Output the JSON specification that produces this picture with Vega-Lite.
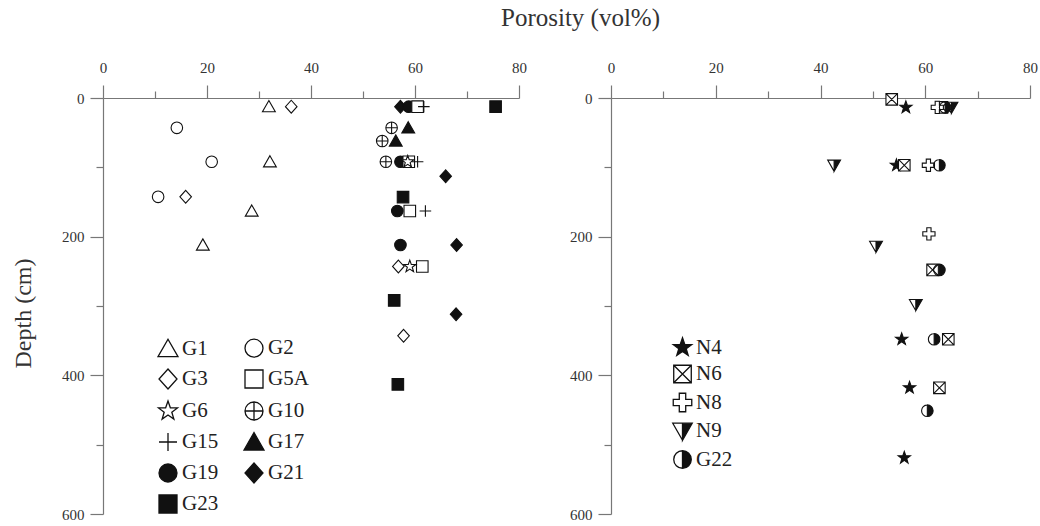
{
  "$schema": "https://vega.github.io/schema/vega-lite/v6.json",
  "background": "white",
  "padding": {"left": 11, "top": 6, "right": 5, "bottom": 5},
  "title": {"text": "Porosity (vol%)", "font": "Liberation Serif", "fontSize": 25, "fontWeight": "normal", "color": "#333", "anchor": "middle", "dx": 56, "offset": 29},
  "bounds": "flush",
  "spacing": 92,
  "config": {
    "view": {"stroke": null},
    "axis": {"grid": false, "domainColor": "#777", "tickColor": "#777", "domainWidth": 1.2, "tickWidth": 1.2, "labelFont": "Liberation Serif", "labelFontSize": 15, "labelColor": "#333", "labelFlush": false, "labelOverlap": false},
    "legend": {"title": null, "orient": "none", "padding": 0, "symbolStrokeColor": "#111", "symbolStrokeWidth": 1.3, "symbolOpacity": 1, "labelFont": "Liberation Serif", "labelFontSize": 21, "labelColor": "#222", "labelOffset": 3, "labelLimit": 200}
  },
  "datasets": {
    "left": [
      {"series": "G1", "porosity": 31.9, "depth": 12.5},
      {"series": "G1", "porosity": 32.1, "depth": 92},
      {"series": "G1", "porosity": 28.6, "depth": 163},
      {"series": "G1", "porosity": 19.2, "depth": 212},
      {"series": "G2", "porosity": 14.2, "depth": 43},
      {"series": "G2", "porosity": 20.9, "depth": 92},
      {"series": "G2", "porosity": 10.6, "depth": 142.5},
      {"series": "G3", "porosity": 36.2, "depth": 12.5},
      {"series": "G3", "porosity": 15.9, "depth": 142.5},
      {"series": "G3", "porosity": 56.8, "depth": 243},
      {"series": "G3", "porosity": 57.8, "depth": 343},
      {"series": "G21", "porosity": 57.2, "depth": 12.5},
      {"series": "G21", "porosity": 65.9, "depth": 113},
      {"series": "G21", "porosity": 68.0, "depth": 212},
      {"series": "G21", "porosity": 67.9, "depth": 312},
      {"series": "G19", "porosity": 58.8, "depth": 12.5},
      {"series": "G19", "porosity": 57.2, "depth": 92},
      {"series": "G19", "porosity": 56.6, "depth": 163},
      {"series": "G19", "porosity": 57.2, "depth": 212},
      {"series": "G5A", "porosity": 60.5, "depth": 12.5},
      {"series": "G5A", "porosity": 58.8, "depth": 92},
      {"series": "G5A", "porosity": 59.0, "depth": 163},
      {"series": "G5A", "porosity": 61.4, "depth": 243},
      {"series": "G6", "porosity": 58.6, "depth": 92},
      {"series": "G6", "porosity": 59.0, "depth": 243},
      {"series": "G10", "porosity": 55.5, "depth": 43},
      {"series": "G10", "porosity": 53.7, "depth": 62},
      {"series": "G10", "porosity": 54.4, "depth": 92},
      {"series": "G15", "porosity": 61.7, "depth": 12.5},
      {"series": "G15", "porosity": 60.5, "depth": 92},
      {"series": "G15", "porosity": 62.0, "depth": 163},
      {"series": "G17", "porosity": 58.7, "depth": 43},
      {"series": "G17", "porosity": 56.3, "depth": 62},
      {"series": "G23", "porosity": 75.5, "depth": 12.5},
      {"series": "G23", "porosity": 57.7, "depth": 143},
      {"series": "G23", "porosity": 56.0, "depth": 292},
      {"series": "G23", "porosity": 56.7, "depth": 413}
    ],
    "right": [
      {"series": "N4", "porosity": 56.3, "depth": 13.5},
      {"series": "N4", "porosity": 54.5, "depth": 97},
      {"series": "N4", "porosity": 55.5, "depth": 348},
      {"series": "N4", "porosity": 57.0, "depth": 418},
      {"series": "N4", "porosity": 56.0, "depth": 519},
      {"series": "N6", "porosity": 53.6, "depth": 2},
      {"series": "N6", "porosity": 63.2, "depth": 13.5},
      {"series": "N6", "porosity": 56.0, "depth": 97},
      {"series": "N6", "porosity": 61.4, "depth": 248},
      {"series": "N6", "porosity": 64.4, "depth": 348},
      {"series": "N6", "porosity": 62.7, "depth": 418},
      {"series": "N8", "porosity": 62.3, "depth": 13.5},
      {"series": "N8", "porosity": 60.6, "depth": 97},
      {"series": "N8", "porosity": 60.7, "depth": 196},
      {"series": "N9", "porosity": 65.0, "depth": 13.5},
      {"series": "N9", "porosity": 42.6, "depth": 97},
      {"series": "N9", "porosity": 50.6, "depth": 214},
      {"series": "N9", "porosity": 58.2, "depth": 298},
      {"series": "G22", "porosity": 63.8, "depth": 13.5},
      {"series": "G22", "porosity": 62.7, "depth": 97},
      {"series": "G22", "porosity": 62.7, "depth": 248},
      {"series": "G22", "porosity": 61.7, "depth": 348},
      {"series": "G22", "porosity": 60.4, "depth": 451}
    ]
  },
  "resolve": {
    "scale": {"x": "independent", "y": "independent", "shape": "independent", "fill": "independent"},
    "legend": {"shape": "independent", "fill": "independent"}
  },
  "hconcat": [
    {
      "width": 416,
      "height": 416,
      "data": {"name": "left"},
      "mark": {"type": "point", "filled": true, "stroke": "#111", "strokeWidth": 1.1, "size": 165, "opacity": 1},
      "encoding": {
        "x": {
          "field": "porosity", "type": "quantitative",
          "scale": {"domain": [0, 80], "nice": false, "zero": false},
          "axis": {"orient": "top", "title": null, "values": [0, 10, 20, 30, 40, 50, 60, 70, 80],
            "labelExpr": "datum.value % 20 === 0 ? datum.label : ''",
            "tickSize": {"condition": {"test": "datum.value % 20 === 0", "value": 13}, "value": 7},
            "labelPadding": 10}
        },
        "y": {
          "field": "depth", "type": "quantitative",
          "scale": {"domain": [0, 600], "nice": false, "zero": false, "reverse": true},
          "axis": {"orient": "left", "title": "Depth (cm)", "values": [0, 100, 200, 300, 400, 500, 600],
            "labelExpr": "datum.value % 200 === 0 ? datum.label : ''",
            "tickSize": {"condition": {"test": "datum.value % 200 === 0", "value": 13}, "value": 7},
            "labelPadding": 6,
            "titleFont": "Liberation Serif", "titleFontSize": 24, "titleFontWeight": "normal", "titleColor": "#333",
            "titlePadding": 26, "titleY": 215}
        },
        "shape": {
          "field": "series", "type": "nominal",
          "scale": {
            "domain": ["G1", "G2", "G3", "G5A", "G6", "G10", "G15", "G17", "G19", "G21", "G23"],
            "range": [
              "M0,-0.95L1,0.8L-1,0.8Z",
              "M0.9,0A0.9,0.9,0,1,1,-0.9,0A0.9,0.9,0,1,1,0.9,0Z",
              "M0,-1L0.9,0L0,1L-0.9,0Z",
              "M-0.9,-0.9L0.9,-0.9L0.9,0.9L-0.9,0.9Z",
              "M0,-1L0.235,-0.324L0.951,-0.309L0.38,0.124L0.588,0.809L0,0.4L-0.588,0.809L-0.38,0.124L-0.951,-0.309L-0.235,-0.324Z",
              "M0.9,0A0.9,0.9,0,1,1,-0.9,0A0.9,0.9,0,1,1,0.9,0ZM-0.9,0L0.9,0M0,-0.9L0,0.9",
              "M-0.9,0L0.9,0M0,-0.9L0,0.9",
              "M0,-0.95L1,0.8L-1,0.8Z",
              "M0.9,0A0.9,0.9,0,1,1,-0.9,0A0.9,0.9,0,1,1,0.9,0Z",
              "M0,-1L0.9,0L0,1L-0.9,0Z",
              "M-0.9,-0.9L0.9,-0.9L0.9,0.9L-0.9,0.9Z"
            ]
          },
          "legend": {"legendX": 54, "legendY": 239, "columns": 2, "direction": "horizontal", "columnPadding": 22, "rowPadding": 6, "symbolSize": 400,
            "encode": {"symbols": {"update": {"stroke": {"value": "#111"}, "strokeWidth": {"value": 1.3}}}}}
        },
        "fill": {
          "field": "series", "type": "nominal",
          "scale": {
            "domain": ["G1", "G2", "G3", "G5A", "G6", "G10", "G15", "G17", "G19", "G21", "G23"],
            "range": ["white", "white", "white", "white", "white", "white", "white", "#111", "#111", "#111", "#111"]
          },
          "legend": {"legendX": 54, "legendY": 239, "columns": 2, "direction": "horizontal", "columnPadding": 22, "rowPadding": 6, "symbolSize": 400,
            "encode": {"symbols": {"update": {"stroke": {"value": "#111"}, "strokeWidth": {"value": 1.3}}}}}
        }
      }
    },
    {
      "width": 419,
      "height": 416,
      "data": {"name": "right"},
      "mark": {"type": "point", "filled": true, "stroke": "#111", "strokeWidth": 1.1, "size": 165, "opacity": 1},
      "encoding": {
        "x": {
          "field": "porosity", "type": "quantitative",
          "scale": {"domain": [0, 80], "nice": false, "zero": false},
          "axis": {"orient": "top", "title": null, "values": [0, 10, 20, 30, 40, 50, 60, 70, 80],
            "labelExpr": "datum.value % 20 === 0 ? datum.label : ''",
            "tickSize": {"condition": {"test": "datum.value % 20 === 0", "value": 13}, "value": 7},
            "labelPadding": 10}
        },
        "y": {
          "field": "depth", "type": "quantitative",
          "scale": {"domain": [0, 600], "nice": false, "zero": false, "reverse": true},
          "axis": {"orient": "left", "title": null, "values": [0, 100, 200, 300, 400, 500, 600],
            "labelExpr": "datum.value % 200 === 0 ? datum.label : ''",
            "tickSize": {"condition": {"test": "datum.value % 200 === 0", "value": 13}, "value": 7},
            "labelPadding": 6}
        },
        "shape": {
          "field": "series", "type": "nominal",
          "scale": {
            "domain": ["N4", "N6", "N8", "N9", "G22"],
            "range": [
              "M0,-1L0.235,-0.324L0.951,-0.309L0.38,0.124L0.588,0.809L0,0.4L-0.588,0.809L-0.38,0.124L-0.951,-0.309L-0.235,-0.324Z",
              "M-0.9,-0.9L0.9,-0.9L0.9,0.9L-0.9,0.9ZM-0.9,-0.9L0.9,0.9M0.9,-0.9L-0.9,0.9",
              "M-0.33,-0.95L0.33,-0.95L0.33,-0.33L0.95,-0.33L0.95,0.33L0.33,0.33L0.33,0.95L-0.33,0.95L-0.33,0.33L-0.95,0.33L-0.95,-0.33L-0.33,-0.33Z",
              "M0,-0.8L1,-0.8L0,0.95ZM0,-0.8L-1,-0.8L0,0.95L-1,-0.8Z",
              "M0,-0.9A0.9,0.9,0,0,1,0,0.9ZM0,-0.9A0.9,0.9,0,0,0,0,0.9A0.9,0.9,0,0,1,0,-0.9Z"
            ]
          },
          "legend": {"legendX": 61, "legendY": 239, "rowPadding": 4.5, "symbolSize": 380,
            "encode": {"symbols": {"update": {"stroke": {"value": "#111"}, "strokeWidth": {"value": 1.3}}}}}
        },
        "fill": {
          "field": "series", "type": "nominal",
          "scale": {
            "domain": ["N4", "N6", "N8", "N9", "G22"],
            "range": ["#111", "white", "white", "#111", "#111"]
          },
          "legend": {"legendX": 61, "legendY": 239, "rowPadding": 4.5, "symbolSize": 380,
            "encode": {"symbols": {"update": {"stroke": {"value": "#111"}, "strokeWidth": {"value": 1.3}}}}}
        }
      }
    }
  ]
}
